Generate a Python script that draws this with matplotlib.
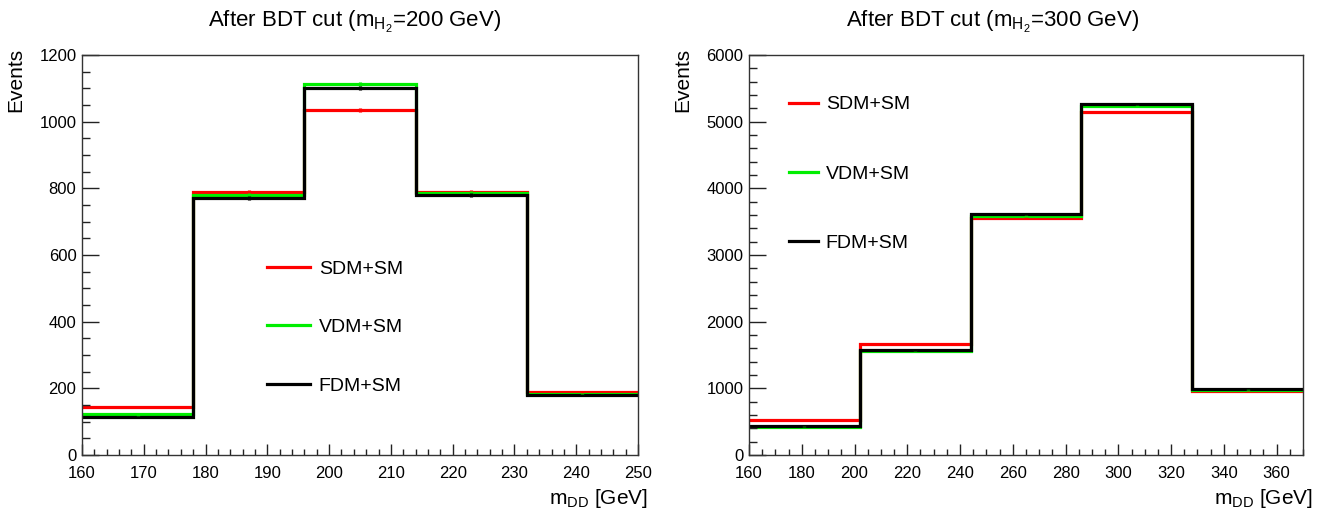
import numpy as np
import matplotlib
matplotlib.use("Agg")
import matplotlib.pyplot as plt
from matplotlib.ticker import MultipleLocator

plt.rcParams['font.family'] = ['Liberation Sans', 'DejaVu Sans']
plt.rcParams['mathtext.fontset'] = 'custom'
plt.rcParams['mathtext.rm'] = 'Liberation Sans'
plt.rcParams['mathtext.it'] = 'Liberation Sans'
plt.rcParams['mathtext.default'] = 'regular'

# ---- data ----
labels = ["SDM+SM", "VDM+SM", "FDM+SM"]
colors = ["#ff0000", "#00ee00", "#000000"]

edges_200 = [160, 178, 196, 214, 232, 250]
sdm_200 = [144, 788, 1034, 790, 190]
vdm_200 = [122, 780, 1112, 785, 183]
fdm_200 = [114, 772, 1100, 780, 179]
err_200 = [4, 6, 6, 6, 3]

edges_300 = [160, 202, 244, 286, 328, 370]
sdm_300 = [525, 1660, 3560, 5140, 962]
vdm_300 = [425, 1565, 3585, 5240, 975]
fdm_300 = [430, 1575, 3610, 5260, 985]
err_300 = [8, 10, 12, 15, 8]

titles = [r"After BDT cut (m$_{H_2}$=200 GeV)", r"After BDT cut (m$_{H_2}$=300 GeV)"]

W, H = 1318, 518
fig = plt.figure(figsize=(W / 100, H / 100), dpi=100)

def px_axes(x0, y0, x1, y1):
    return fig.add_axes([x0 / W, 1 - y1 / H, (x1 - x0) / W, (y1 - y0) / H])

ax1 = px_axes(82, 55, 638, 455)
ax2 = px_axes(749, 55, 1303, 455)

def draw(ax, edges, series, err, xlim, ylim, xmaj, xmin, ymaj, ymin):
    edges = np.asarray(edges, dtype=float)
    centres = 0.5 * (edges[:-1] + edges[1:])
    for vals, c, lab in zip(series, colors, labels):
        ax.stairs(vals, edges, color=c, lw=2.3, label=lab, baseline=None)
        ax.errorbar(centres, vals, yerr=err, fmt='none', ecolor=c, elinewidth=2.3, capsize=0)
    ax.set_xlim(*xlim)
    ax.set_ylim(*ylim)
    ax.xaxis.set_major_locator(MultipleLocator(xmaj))
    ax.xaxis.set_minor_locator(MultipleLocator(xmin))
    ax.yaxis.set_major_locator(MultipleLocator(ymaj))
    ax.yaxis.set_minor_locator(MultipleLocator(ymin))
    ax.tick_params(axis='both', which='both', direction='in', top=False, right=False,
                   labelsize=12, colors='#222222', labelcolor='black')
    ax.tick_params(axis='y', which='major', length=12.2, width=1, pad=4)
    ax.tick_params(axis='y', which='minor', length=6.1, width=1)
    ax.tick_params(axis='x', which='major', length=8, width=1, pad=8)
    ax.tick_params(axis='x', which='minor', length=4, width=1)
    for s in ax.spines.values():
        s.set_linewidth(1.0)
        s.set_color('#333333')
    xl = ax.set_xlabel(r"m$_{DD}$ [GeV]", fontsize=15, labelpad=4)
    xl.set_horizontalalignment('right')
    xl.set_x(1.018)
    yl = ax.set_ylabel("Events", fontsize=15, labelpad=10)
    yl.set_horizontalalignment('right')
    yl.set_y(1.018)

draw(ax1, edges_200, [sdm_200, vdm_200, fdm_200], err_200, (160, 250), (0, 1200), 10, 2, 200, 50)
draw(ax2, edges_300, [sdm_300, vdm_300, fdm_300], err_300, (160, 370), (0, 6000), 20, 5, 1000, 200)

ax1.legend(loc='upper left', bbox_to_anchor=(0.333, 0.487), frameon=False, fontsize=14,
           handlelength=2.2, handletextpad=0.45, labelspacing=2.1, borderpad=0, borderaxespad=0)
ax2.legend(loc='upper left', bbox_to_anchor=(0.072, 0.898), frameon=False, fontsize=14,
           handlelength=1.5, handletextpad=0.4, labelspacing=2.65, borderpad=0, borderaxespad=0)

fig.text(355 / W, 1 - 22 / H, titles[0], ha='center', va='center', fontsize=16)
fig.text(993 / W, 1 - 22 / H, titles[1], ha='center', va='center', fontsize=16)

fig.savefig("out.png", dpi=100)
